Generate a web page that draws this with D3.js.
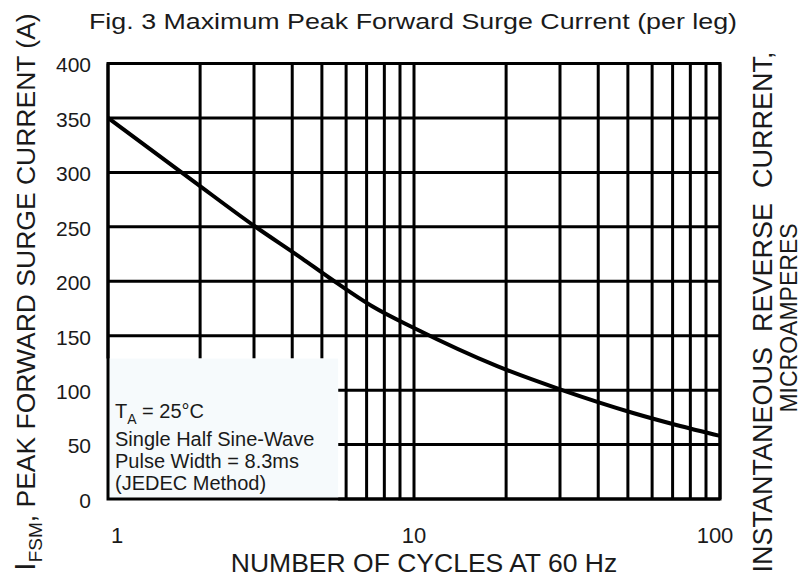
<!DOCTYPE html>
<html>
<head>
<meta charset="utf-8">
<script src="https://cdn.jsdelivr.net/npm/d3@7"></script>
<style>
  body { margin: 0; background: #fff; }
  text { font-family: "Liberation Sans", Arial, sans-serif; fill: #1a1a1a; }
</style>
</head>
<body>
<script>
// surge current curve
var cycles = [1, 1.9, 3, 4.3, 5.3, 7.3, 10, 18.7, 30.5, 52, 72, 100];
var amps = [350, 292, 251, 221, 203, 177, 157, 122, 100, 79, 68, 58];

var yTicks = [0, 50, 100, 150, 200, 250, 300, 350, 400];
var xLabels = [1, 10, 100];
var xGrid = [1, 2, 3, 4, 5, 6, 7, 8, 9, 10, 20, 30, 40, 50, 60, 70, 80, 90, 100];
var noteLines = ["Single Half Sine-Wave", "Pulse Width = 8.3ms", "(JEDEC Method)"];

var width = 801, height = 586;
var plotLeft = 108, plotRight = 720, plotTop = 63.5, plotBottom = 499;

var svg = d3.select("body").append("svg")
    .attr("width", width)
    .attr("height", height);

var x = d3.scaleLog().domain([1, 100]).range([plotLeft, plotRight]);
var y = d3.scaleLinear().domain([0, 400]).range([plotBottom, plotTop]);

// note box corner (in data units)
var boxX = 5.65, boxY = 129;

var grid = svg.append("g")
    .attr("stroke", "#000")
    .attr("stroke-width", 3);

grid.selectAll(".vg")
    .data(xGrid)
    .enter()
    .append("line")
    .attr("x1", function(d) { return x(d); })
    .attr("x2", function(d) { return x(d); })
    .attr("y1", plotTop)
    .attr("y2", function(d) { return d < boxX ? y(boxY) : plotBottom; });

grid.selectAll(".hg")
    .data(yTicks)
    .enter()
    .append("line")
    .attr("y1", function(d) { return y(d); })
    .attr("y2", function(d) { return y(d); })
    .attr("x1", function(d) { return d < boxY ? x(boxX) : plotLeft; })
    .attr("x2", plotRight);

// note box
svg.append("rect")
    .attr("x", plotLeft)
    .attr("y", y(boxY))
    .attr("width", x(boxX) - plotLeft)
    .attr("height", plotBottom - y(boxY))
    .attr("fill", "#f6fafc");

// frame
svg.append("rect")
    .attr("x", plotLeft)
    .attr("y", plotTop)
    .attr("width", plotRight - plotLeft)
    .attr("height", plotBottom - plotTop)
    .attr("fill", "none")
    .attr("stroke", "#000")
    .attr("stroke-width", 3);

// curve
var line = d3.line()
    .x(function(d, i) { return x(cycles[i]); })
    .y(function(d) { return y(d); })
    .curve(d3.curveMonotoneX);

svg.append("path")
    .datum(amps)
    .attr("d", line)
    .attr("fill", "none")
    .attr("stroke", "#000")
    .attr("stroke-width", 4);

// y axis labels
var yAxis = d3.axisLeft(y).tickValues(yTicks).tickSize(0).tickPadding(0);
var ya = svg.append("g")
    .attr("transform", "translate(91,0)")
    .call(yAxis);
ya.select(".domain").remove();
ya.selectAll("text")
    .attr("font-size", 21)
    .attr("fill", "#1a1a1a")
    .style("font-family", "Liberation Sans, Arial, sans-serif")
    .attr("dy", "0.4em");

// x axis labels
svg.selectAll(".xl")
    .data(xLabels)
    .enter()
    .append("text")
    .attr("x", function(d) { return x(d) + (d == 1 ? 9 : (d == 100 ? -5 : 0)); })
    .attr("y", 543)
    .attr("font-size", 22)
    .attr("text-anchor", "middle")
    .text(function(d) { return d; });

svg.append("text")
    .attr("x", 424)
    .attr("y", 572)
    .attr("font-size", 26.5)
    .attr("text-anchor", "middle")
    .text("NUMBER OF CYCLES AT 60 Hz");

// title
svg.append("text")
    .attr("x", 413)
    .attr("y", 29)
    .attr("font-size", 22)
    .attr("text-anchor", "middle")
    .attr("textLength", 648)
    .attr("lengthAdjust", "spacingAndGlyphs")
    .text("Fig. 3  Maximum Peak Forward Surge Current (per leg)");

// left axis title
var lt = svg.append("text")
    .attr("transform", "translate(35,292) rotate(-90)")
    .attr("font-size", 26.5)
    .attr("text-anchor", "middle");
lt.append("tspan").attr("font-size", 30).text("I");
lt.append("tspan").attr("font-size", 19).attr("dy", 7).text("FSM");
lt.append("tspan").attr("dy", -7).text(", PEAK FORWARD SURGE CURRENT (A)");

// right axis title
svg.append("text")
    .attr("transform", "translate(772,312) rotate(-90)")
    .attr("font-size", 27)
    .attr("text-anchor", "middle")
    .attr("xml:space", "preserve")
    .style("white-space", "pre")
    .text("INSTANTANEOUS  REVERSE  CURRENT,");

svg.append("text")
    .attr("transform", "translate(797,318) rotate(-90)")
    .attr("font-size", 23)
    .attr("text-anchor", "middle")
    .text("MICROAMPERES");

// note text
var note = svg.append("g").attr("transform", "translate(115,0)");
var t1 = note.append("text")
    .attr("y", 418)
    .attr("font-size", 20);
t1.append("tspan").text("T");
t1.append("tspan").attr("font-size", 14).attr("dy", 6).text("A");
t1.append("tspan").attr("dy", -6).text(" = 25\u00B0C");

note.selectAll(".nl")
    .data(noteLines)
    .enter()
    .append("text")
    .attr("y", function(d, i) { return 446 + i * 22; })
    .attr("font-size", 20)
    .text(function(d) { return d; });
</script>
</body>
</html>
